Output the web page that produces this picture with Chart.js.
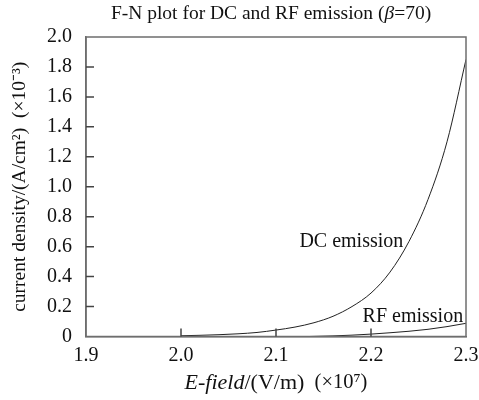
<!DOCTYPE html>
<html>
<head>
<meta charset="utf-8">
<script src="https://cdn.jsdelivr.net/npm/chart.js@4.4.1/dist/chart.umd.min.js"></script>
<style>
  html, body { margin: 0; padding: 0; background: #fff; }
  #wrap { width: 479px; height: 400px; position: relative; }
</style>
</head>
<body>
<div id="wrap"><canvas id="fn-chart"></canvas></div>
<script>
// F-N plot, values (x in 10^7 V/m, y in 10^-3 A/cm^2)
const dcField = [2.00, 2.02, 2.04, 2.06, 2.08, 2.10, 2.12, 2.14, 2.16, 2.18, 2.20, 2.22, 2.24, 2.26, 2.28, 2.30];
const dcDensity = [0.005, 0.008, 0.012, 0.018, 0.027, 0.043, 0.063, 0.092, 0.135, 0.200, 0.290, 0.430, 0.635, 0.915, 1.30, 1.85];
const rfField = [2.135, 2.16, 2.18, 2.20, 2.22, 2.24, 2.26, 2.28, 2.30];
const rfDensity = [0.0, 0.004, 0.009, 0.016, 0.025, 0.035, 0.048, 0.066, 0.088];
const xTicks = [1.9, 2.0, 2.1, 2.2, 2.3];
const yTicks = [0, 0.2, 0.4, 0.6, 0.8, 1.0, 1.2, 1.4, 1.6, 1.8, 2.0];

const SERIF = '"Liberation Serif", "Times New Roman", serif';
const AXIS = '#6e6e6e';
const TICK_LEN = 8;

const pts = (xs, ys) => xs.map((x, i) => ({ x, y: ys[i] }));

// draw a run of [text, italic, size] pieces centred on cx
function mixedText(ctx, parts, cx, y) {
  const widths = parts.map(([t, it, sz]) => {
    ctx.font = (it ? 'italic ' : '') + sz + 'px ' + SERIF;
    return ctx.measureText(t).width;
  });
  let x = cx - widths.reduce((s, w) => s + w, 0) / 2;
  ctx.textAlign = 'left';
  parts.forEach(([t, it, sz], i) => {
    ctx.font = (it ? 'italic ' : '') + sz + 'px ' + SERIF;
    ctx.fillText(t, x, y);
    x += widths[i];
  });
}

const decor = {
  id: 'decor',
  afterDraw(chart) {
    const { ctx, chartArea: a, scales } = chart;
    ctx.save();
    // frame
    ctx.strokeStyle = AXIS;
    ctx.lineWidth = 1.5;
    ctx.strokeRect(a.left, a.top, a.right - a.left, a.bottom - a.top);

    // inner tick marks (not at the ends)
    ctx.strokeStyle = '#444';
    ctx.lineWidth = 1.5;
    ctx.beginPath();
    xTicks.slice(1, -1).forEach(v => {
      const px = scales.x.getPixelForValue(v);
      ctx.moveTo(px, a.bottom);
      ctx.lineTo(px, a.bottom - TICK_LEN);
    });
    yTicks.slice(1, -1).forEach(v => {
      const py = scales.y.getPixelForValue(v);
      ctx.moveTo(a.left, py);
      ctx.lineTo(a.left + TICK_LEN, py);
    });
    ctx.stroke();

    ctx.fillStyle = '#111';
    ctx.textBaseline = 'middle';
    mixedText(ctx, [['F-N plot for DC and RF emission (', false, 19.5], ['β', true, 19.5], ['=70)', false, 19.5]], 271, 14);
    mixedText(ctx, [['E-field', true, 22], ['/(V/m)', false, 22], ['  (×10⁷)', false, 20.5]], (a.left + a.right) / 2, 383);

    // y axis title
    ctx.save();
    ctx.translate(20, (a.top + a.bottom) / 2);
    ctx.rotate(-Math.PI / 2);
    ctx.textAlign = 'center';
    ctx.font = '19.5px ' + SERIF;
    ctx.fillText('current density/(A/cm²)  (×10⁻³)', 0, 0);
    ctx.restore();

    // curve labels
    ctx.font = '20px ' + SERIF;
    ctx.textAlign = 'right';
    ctx.fillText('DC emission', scales.x.getPixelForValue(2.234), scales.y.getPixelForValue(0.63));
    ctx.fillText('RF emission', scales.x.getPixelForValue(2.297), scales.y.getPixelForValue(0.135));
    ctx.restore();
  }
};

const lineStyle = {
  borderColor: '#222',
  borderWidth: 1,
  pointRadius: 0,
  fill: false,
  cubicInterpolationMode: 'monotone'
};

new Chart(document.getElementById('fn-chart'), {
  type: 'line',
  data: {
    datasets: [
      { label: 'DC emission', data: pts(dcField, dcDensity), ...lineStyle },
      { label: 'RF emission', data: pts(rfField, rfDensity), ...lineStyle }
    ]
  },
  options: {
    responsive: true,
    maintainAspectRatio: false,
    animation: false,
    layout: { padding: { top: 37, right: 0, left: 0, bottom: 0 } },
    plugins: { legend: { display: false }, tooltip: { enabled: false }, title: { display: false } },
    scales: {
      x: {
        type: 'linear',
        min: xTicks[0], max: xTicks[xTicks.length - 1],
        afterBuildTicks: (s) => { s.ticks = xTicks.map(v => ({ value: v })); },
        afterFit: (s) => { s.height = 63.5; s.paddingRight = 13; },
        grid: { display: false, drawOnChartArea: false, drawTicks: false },
        border: { display: true, color: AXIS, width: 1.5 },
        ticks: { color: '#111', font: { family: SERIF, size: 20 }, padding: 7, maxRotation: 0,
                 callback: (v) => Number(v).toFixed(1) }
      },
      y: {
        min: yTicks[0], max: yTicks[yTicks.length - 1],
        afterBuildTicks: (s) => { s.ticks = yTicks.map(v => ({ value: v })); },
        afterFit: (s) => { s.width = 86; },
        grid: { display: false, drawOnChartArea: false, drawTicks: false },
        border: { display: true, color: AXIS, width: 1.5 },
        ticks: { color: '#111', font: { family: SERIF, size: 20 }, padding: 14,
                 callback: (v) => v === 0 ? '0' : Number(v).toFixed(1) }
      }
    }
  },
  plugins: [decor]
});
</script>
</body>
</html>
